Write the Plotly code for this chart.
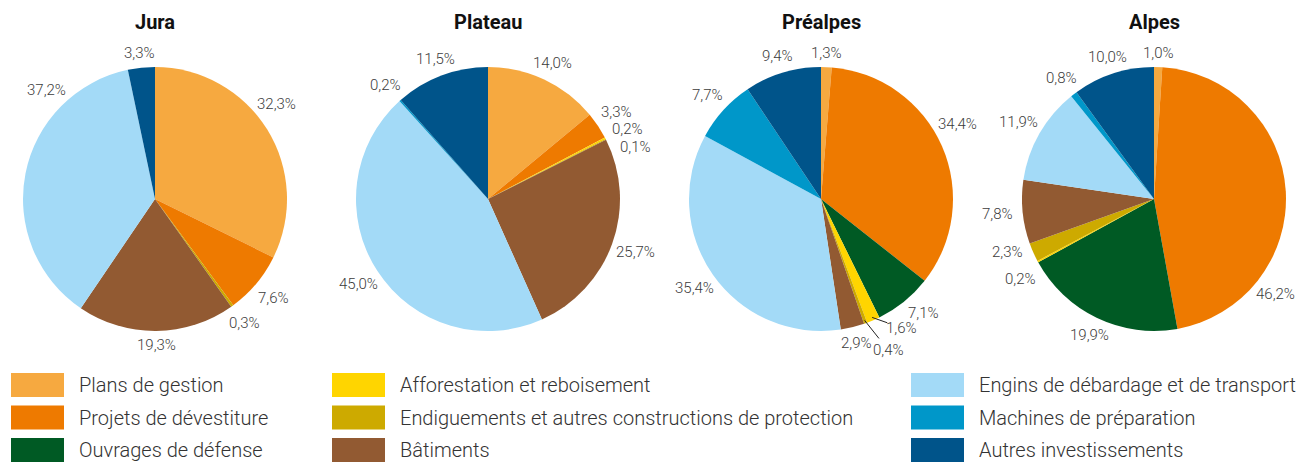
import math
import plotly.graph_objects as go

W, H = 1298, 462

categories = [
    "Plans de gestion",
    "Projets de dévestiture",
    "Ouvrages de défense",
    "Afforestation et reboisement",
    "Endiguements et autres constructions de protection",
    "Bâtiments",
    "Engins de débardage et de transport",
    "Machines de préparation",
    "Autres investissements",
]
colors = ["#F6A940", "#EE7A00", "#005A24", "#FFD500", "#CDAA00",
          "#925A32", "#A3DAF7", "#0097C9", "#00548A"]

regions = ["Jura", "Plateau", "Préalpes", "Alpes"]
jura = [32.3, 7.6, 0.0, 0.0, 0.3, 19.3, 37.2, 0.0, 3.3]
plateau = [14.0, 3.3, 0.0, 0.2, 0.1, 25.7, 45.0, 0.2, 11.5]
prealpes = [1.3, 34.4, 7.1, 1.6, 0.4, 2.9, 35.4, 7.7, 9.4]
alpes = [1.0, 46.2, 19.9, 0.2, 2.3, 7.8, 11.9, 0.8, 10.0]
series = [jura, plateau, prealpes, alpes]

# ---- layout / style settings ----
centers_x = [155, 488, 821, 1154]
center_y = 199
radius = 132
FONT = "Roboto"
LABEL_SIZE = 15
LABEL_COLOR = "#3c3c3c"

# label placement tweaks (region index, category index) -> angle in degrees
label_angle = {(0, 0): 52, (0, 6): 315,
               (1, 1): 56, (1, 3): 63.5, (1, 4): 70.5,
               (2, 1): 61, (2, 2): 138, (2, 3): 148, (2, 4): 156,
               (3, 1): 128, (3, 3): 239, (3, 4): 250}
label_extra = {(2, 4): 15}
leader = {(2, 3), (2, 4)}

fig = go.Figure()
shapes = []
for ri, (name, vals, cx) in enumerate(zip(regions, series, centers_x)):
    fig.add_trace(go.Pie(
        labels=categories,
        values=vals,
        textinfo="none",
        sort=False,
        direction="clockwise",
        rotation=0,
        marker=dict(colors=colors, line=dict(width=0)),
        domain=dict(x=[(cx - radius) / W, (cx + radius) / W],
                    y=[1 - (center_y + radius) / H, 1 - (center_y - radius) / H]),
        name=name,
        showlegend=False,
        hoverinfo="label+percent",
    ))
    fig.add_annotation(x=cx / W, y=1 - 22 / H, xref="paper", yref="paper",
                       text="<b>%s</b>" % name, showarrow=False,
                       font=dict(family=FONT, size=20, color="#111111"),
                       xanchor="center", yanchor="middle")

    total = sum(vals)
    cum = 0.0
    for ci, v in enumerate(vals):
        mid = (cum + v / 2) / total * 360.0
        cum += v
        if v <= 0:
            continue
        th = label_angle.get((ri, ci), mid)
        t = math.radians(th)
        d = radius + 14 + 11 * abs(math.sin(t)) + label_extra.get((ri, ci), 0)
        lx = cx + d * math.sin(t)
        ly = center_y - d * math.cos(t)
        txt = ("%.1f%%" % v).replace(".", ",")
        fig.add_annotation(x=lx / W, y=1 - ly / H, xref="paper", yref="paper",
                           text=txt, showarrow=False,
                           xanchor="center", yanchor="middle",
                           font=dict(family=FONT, size=LABEL_SIZE,
                                     color=LABEL_COLOR, weight=300))
        if (ri, ci) in leader:
            m = math.radians(mid)
            sx = cx + (radius - 3) * math.sin(m)
            sy = center_y - (radius - 3) * math.cos(m)
            vx, vy = lx - sx, ly - sy
            L = math.hypot(vx, vy)
            k = (L - 15) / L
            shapes.append(dict(type="line", xref="paper", yref="paper",
                               x0=sx / W, y0=1 - sy / H,
                               x1=(sx + vx * k) / W, y1=1 - (sy + vy * k) / H,
                               line=dict(color="#222222", width=1)))

# legend (3 columns x 3 rows)
col_x = [11, 332, 911]
row_y = [385, 417.5, 450]
sw_w, sw_h = 53, 24
for i, (cat, col) in enumerate(zip(categories, colors)):
    c, r = divmod(i, 3)
    x0 = col_x[c]
    yc = row_y[r]
    shapes.append(dict(type="rect", xref="paper", yref="paper",
                       x0=x0 / W, x1=(x0 + sw_w) / W,
                       y0=1 - (yc + sw_h / 2) / H, y1=1 - (yc - sw_h / 2) / H,
                       fillcolor=col, line=dict(width=0)))
    fig.add_annotation(x=(x0 + 66) / W, y=1 - yc / H, xref="paper", yref="paper",
                       text=cat, showarrow=False, xanchor="left", yanchor="middle",
                       font=dict(family=FONT, size=20, color="#333333", weight=300))

fig.update_layout(
    width=W, height=H,
    margin=dict(l=0, r=0, t=0, b=0),
    paper_bgcolor="white", plot_bgcolor="white",
    shapes=shapes,
    showlegend=False,
)

fig.write_html("out.html",
               config={"displayModeBar": False},
               post_script="document.body.style.margin='0';document.body.style.overflow='hidden';")
